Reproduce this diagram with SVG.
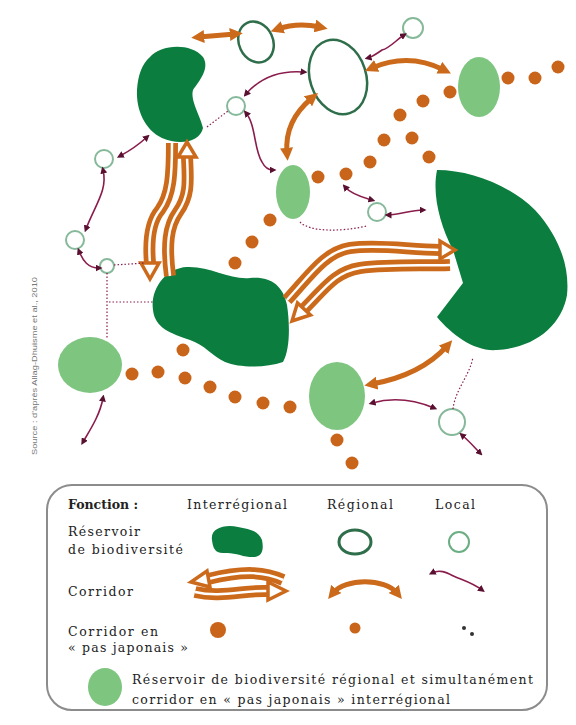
<svg xmlns="http://www.w3.org/2000/svg" width="576" height="725" viewBox="0 0 576 725">
<style>
.dk{fill:#0b7d3e}
.lt{fill:#7ec580}
.reg{fill:#fff;stroke:#2f6e4a;stroke-width:2.5}
.loc{fill:#fff;stroke:#86b99a;stroke-width:2}
.dot{fill:#c9651b}
.band{fill:none;stroke:#cc6a1c;stroke-width:12;stroke-linecap:butt}
.bandin{fill:none;stroke:#fff;stroke-width:2.5}
.head{fill:#fff;stroke:#cc6a1c;stroke-width:3.5;stroke-linejoin:miter}
.oc{fill:none;stroke:#cc6a1c;stroke-width:5;marker-start:url(#mo);marker-end:url(#mo)}
.pc{fill:none;stroke:#8a1c4c;stroke-width:1.6;marker-start:url(#mp);marker-end:url(#mp)}
.pd{fill:none;stroke:#8a1c4c;stroke-width:1.2;stroke-dasharray:1.5 2}
text{font-family:"DejaVu Serif","Liberation Serif",serif;font-size:12.5px;fill:#222}
.b{font-weight:bold}
.src{font-family:"Liberation Sans",sans-serif;font-size:8px;fill:#777}
</style>
<defs>
<marker id="mo" viewBox="0 0 10 10" refX="4" refY="5" markerWidth="13" markerHeight="13" markerUnits="userSpaceOnUse" orient="auto-start-reverse"><path d="M0,0 L10,5 L0,10 z" fill="#cc6a1c"/></marker>
<marker id="mp" viewBox="0 0 10 10" refX="5" refY="5" markerWidth="7" markerHeight="7" markerUnits="userSpaceOnUse" orient="auto-start-reverse"><path d="M0,0 L10,5 L0,10 z" fill="#5a1030"/></marker>
</defs>
<rect width="576" height="725" fill="#fff"/>

<!-- reservoirs interregional -->
<g id="res-kidney"><path class="dk" d="M150,57 C160,45 190,42 203,57 C210,68 200,80 193,90 C190,100 200,115 203,128 C200,142 180,146 162,138 C145,130 136,110 137,90 C138,75 142,64 150,57 Z"/></g>
<g id="res-center"><path class="dk" d="M153,310 C150,290 165,268 187,267 C210,266 230,280 250,278 C270,276 283,285 287,305 C290,325 290,350 283,362 C265,368 240,368 225,362 C212,356 205,345 190,340 C170,333 155,328 153,310 Z"/></g>
<g id="res-pacman"><path class="dk" d="M437,170 C470,170 510,185 535,210 C558,235 570,265 567,295 C562,325 535,348 497,350 C475,352 452,335 437,317 L463,283 L453,250 C440,225 432,195 437,170 Z"/></g>

<!-- regional reservoirs (outlined) -->
<g id="res-reg1"><ellipse class="reg" cx="256" cy="42" rx="17" ry="21" transform="rotate(-25 256 42)"/></g>
<g id="res-reg2"><ellipse class="reg" cx="338" cy="77" rx="28" ry="38" transform="rotate(-18 338 77)"/></g>

<!-- light green stepping reservoirs -->
<g id="lg1"><ellipse class="lt" cx="293" cy="192" rx="17" ry="27"/></g>
<g id="lg2"><ellipse class="lt" cx="479" cy="87" rx="21" ry="30"/></g>
<g id="lg3"><ellipse class="lt" cx="90" cy="365" rx="32" ry="28"/></g>
<g id="lg4"><ellipse class="lt" cx="337" cy="396" rx="28" ry="34"/></g>

<!-- local reservoirs -->
<g id="loc1"><circle class="loc" cx="413" cy="28" r="10"/></g>
<g id="loc2"><circle class="loc" cx="236" cy="106" r="9"/></g>
<g id="loc3"><circle class="loc" cx="104" cy="159" r="9"/></g>
<g id="loc4"><circle class="loc" cx="75" cy="240" r="9"/></g>
<g id="loc5"><circle class="loc" cx="107" cy="266" r="7"/></g>
<g id="loc6"><circle class="loc" cx="377" cy="212" r="9"/></g>
<g id="loc7"><circle class="loc" cx="452" cy="422" r="13"/></g>

<!-- connectors -->
<g id="connectors">
  <!-- interregional double corridors -->
  <path class="band" d="M172,143 C172,175 171,195 160,210 C150,222 148,240 150,263"/>
  <path class="band" d="M187,157 C188,180 190,195 178,212 C168,226 166,245 170,276"/>
  <path class="band" d="M287,300 C310,275 325,252 350,248 C380,244 410,250 440,250"/>
  <path class="band" d="M304,309 C325,288 335,272 360,268 C390,264 420,266 450,265"/>
  <path class="bandin" d="M172,143 C172,175 171,195 160,210 C150,222 148,240 150,263"/>
  <path class="bandin" d="M187,157 C188,180 190,195 178,212 C168,226 166,245 170,276"/>
  <path class="bandin" d="M287,300 C310,275 325,252 350,248 C380,244 410,250 440,250"/>
  <path class="bandin" d="M304,309 C325,288 335,272 360,268 C390,264 420,266 450,265"/>
  <polygon class="head" points="178,157 196,157 187,142"/>
  <polygon class="head" points="141,263 159,263 150,279"/>
  <polygon class="head" points="440,241 440,259 455,250"/>
  <polygon class="head" points="310.5,315 297.5,303 292,321"/>

  <!-- regional corridors -->
  <path class="oc" d="M199,37 L235,34"/>
  <path class="oc" d="M278,29 C292,24 306,24 320,27"/>
  <path class="oc" d="M372,68 C395,58 420,58 444,70"/>
  <path class="oc" d="M312,98 C295,112 285,130 287,153"/>
  <path class="oc" d="M447,346 C430,365 405,378 372,384"/>

  <!-- local corridors -->
  <path class="pc" d="M147,137 Q135,148 120,156"/>
  <path class="pc" d="M103,170 C108,190 95,205 86,229"/>
  <path class="pc" d="M79,251 C83,261 88,268 99,268"/>
  <path class="pc" d="M246,94 C260,78 280,70 304,72"/>
  <path class="pc" d="M246,113 C256,125 254,150 262,162 C265,168 269,170 273,170"/>
  <path class="pc" d="M404,35 C396,40 390,48 382,50 C376,54 372,57 368,58"/>
  <path class="pc" d="M345,187 C352,195 365,198 372,200"/>
  <path class="pc" d="M388,215 C400,215 410,210 423,210"/>
  <path class="pc" d="M103,398 C100,415 90,430 83,442"/>
  <path class="pc" d="M372,403 C390,398 410,398 434,408"/>
  <path class="pc" d="M462,435 C470,442 475,448 480,453"/>
  <path class="pd" d="M114,265 L145,263"/>
  <path class="pd" d="M107,273 L107,338"/>
  <path class="pd" d="M109,302 L153,302"/>
  <path class="pd" d="M207,127 L228,111"/>
  <path class="pd" d="M300,222 C310,232 340,232 367,226"/>
  <path class="pd" d="M453,409 C455,390 470,375 473,357"/>
</g>

<!-- stepping-stone dots -->
<g id="stepping-stones">
  <circle class="dot" cx="558" cy="67" r="6.5"/>
  <circle class="dot" cx="535" cy="78" r="6.5"/>
  <circle class="dot" cx="508" cy="78" r="6.5"/>
  <circle class="dot" cx="450" cy="92" r="6.5"/>
  <circle class="dot" cx="423" cy="101" r="6.5"/>
  <circle class="dot" cx="400" cy="115" r="6.5"/>
  <circle class="dot" cx="384" cy="140" r="6.5"/>
  <circle class="dot" cx="412" cy="138" r="6.5"/>
  <circle class="dot" cx="429" cy="157" r="6.5"/>
  <circle class="dot" cx="370" cy="162" r="6.5"/>
  <circle class="dot" cx="346" cy="174" r="6.5"/>
  <circle class="dot" cx="318" cy="177" r="6.5"/>
  <circle class="dot" cx="270" cy="220" r="6.5"/>
  <circle class="dot" cx="252" cy="242" r="6.5"/>
  <circle class="dot" cx="235" cy="263" r="6.5"/>
  <circle class="dot" cx="183" cy="350" r="6.5"/>
  <circle class="dot" cx="132" cy="374" r="6.5"/>
  <circle class="dot" cx="158" cy="372" r="6.5"/>
  <circle class="dot" cx="185" cy="378" r="6.5"/>
  <circle class="dot" cx="210" cy="387" r="6.5"/>
  <circle class="dot" cx="235" cy="397" r="6.5"/>
  <circle class="dot" cx="263" cy="403" r="6.5"/>
  <circle class="dot" cx="290" cy="407" r="6.5"/>
  <circle class="dot" cx="337" cy="440" r="6.5"/>
  <circle class="dot" cx="352" cy="463" r="6.5"/>
</g>

<text class="src" x="37" y="455" transform="rotate(-90 37 455)" textLength="178" lengthAdjust="spacingAndGlyphs">Source : d'après Allag-Dhuisme et al., 2010</text>

<!-- legend -->
<g id="legend">
  <rect x="47" y="485" width="500" height="225" rx="25" fill="#fff" stroke="#8c8c8c" stroke-width="2"/>
  <text class="b" x="68" y="509">Fonction :</text>
  <text x="187" y="509" textLength="100">Interrégional</text>
  <text x="327" y="509" textLength="66">Régional</text>
  <text x="435" y="509" textLength="40">Local</text>
  <text x="68" y="536" textLength="72">Réservoir</text>
  <text x="68" y="554" textLength="115">de biodiversité</text>
  <text x="68" y="596" textLength="65">Corridor</text>
  <text x="68" y="636" textLength="90">Corridor en</text>
  <text x="68" y="652" textLength="120">« pas japonais »</text>
  <text x="132" y="684" textLength="401">Réservoir de biodiversité régional et simultanément</text>
  <text x="132" y="704" textLength="318">corridor en « pas japonais » interrégional</text>

  <path class="dk" d="M212,540 C210,528 225,524 238,527 C248,529 258,530 262,540 C264,550 262,556 255,557 C245,558 235,552 225,553 C215,554 213,548 212,540 Z"/>
  <ellipse cx="355" cy="542" rx="16" ry="12" fill="#fff" stroke="#2f6e4a" stroke-width="3"/>
  <circle cx="459" cy="542" r="10" fill="#fff" stroke="#6cae83" stroke-width="2"/>

  <path class="band" d="M283,580 C265,572 245,570 208,579"/>
  <path class="band" d="M195,592 C220,598 245,590 268,591"/>
  <path class="bandin" d="M283,580 C265,572 245,570 208,579"/>
  <path class="bandin" d="M195,592 C220,598 245,590 268,591"/>
  <polygon class="head" points="207,571 210,587 191,582"/>
  <polygon class="head" points="268,582 268,600 286,591"/>

  <path class="oc" d="M333,593 C345,578 385,578 397,593"/>
  <path class="pc" d="M432,573 C442,568 450,575 458,578 C468,582 474,584 482,590"/>

  <circle class="dot" cx="218" cy="630" r="8"/>
  <circle class="dot" cx="355" cy="628" r="5.5"/>
  <circle cx="464" cy="628" r="2" fill="#333"/>
  <circle cx="472" cy="634" r="2" fill="#333"/>

  <ellipse class="lt" cx="105" cy="687" rx="17" ry="19"/>
</g>
</svg>
